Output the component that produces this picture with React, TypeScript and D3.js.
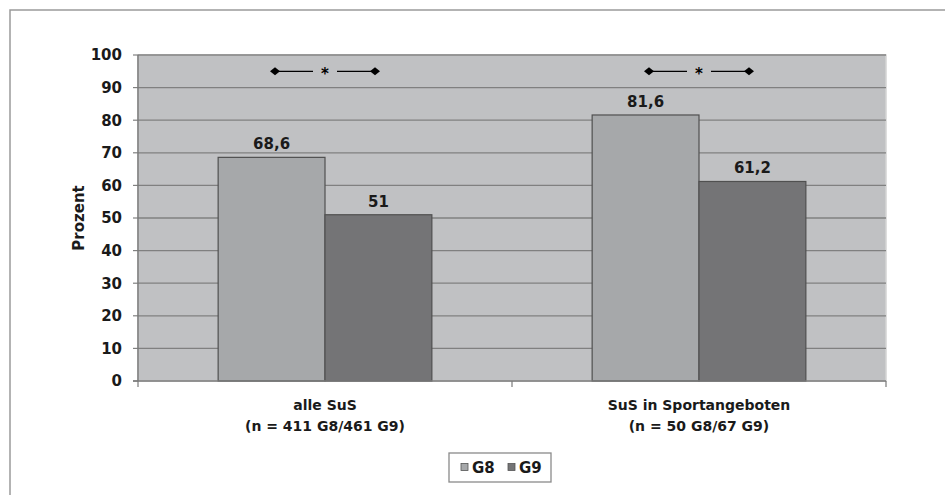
import * as d3 from "d3"

const categories = ["alle SuS", "SuS in Sportangeboten"]
const categorySubtitles = ["(n = 411 G8/461 G9)", "(n = 50 G8/67 G9)"]
const series = ["G8", "G9"]
const g8Values = [68.6, 81.6]
const g9Values = [51, 61.2]
const valueLabels = [["68,6", "51"], ["81,6", "61,2"]]
const yTicks = [0, 10, 20, 30, 40, 50, 60, 70, 80, 90, 100]
const significanceLevel = 95

const colors: Record<string, string> = {G8: "#a6a8aa", G9: "#747476"}
const font = "'DejaVu Sans', Arial, sans-serif"

export default function App() {
  const width = 945
  const height = 495
  const plot = {left: 138, right: 886, top: 55, bottom: 381}

  const x0 = d3.scaleBand<string>().domain(categories).range([plot.left, plot.right])
  const x1 = d3
    .scaleBand<string>()
    .domain(series)
    .range([0, x0.bandwidth()])
    .paddingInner(0)
    .paddingOuter(0.75)
  const y = d3.scaleLinear().domain([0, 100]).range([plot.bottom, plot.top])

  const values: Record<string, number[]> = {G8: g8Values, G9: g9Values}

  return (
    <svg
      width={width}
      height={height}
      style={{position: "absolute", left: 0, top: 0, background: "#fff"}}
      fontFamily={font}
    >
      {/* outer frame, cropped on right and bottom */}
      <path d={`M10,${height} V10 H${width}`} fill="none" stroke="#9a9a9a" strokeWidth={1.5} />

      {/* plot area */}
      <rect
        x={plot.left}
        y={plot.top}
        width={plot.right - plot.left}
        height={plot.bottom - plot.top}
        fill="#c0c1c3"
        stroke="#d4d4d4"
        strokeWidth={1.5}
      />

      {/* gridlines + y ticks */}
      {yTicks.map((t) => (
        <g key={t}>
          {t > 0 && (
            <line x1={plot.left} x2={plot.right} y1={y(t)} y2={y(t)} stroke="#808080" strokeWidth={1.3} />
          )}
          <line x1={plot.left - 5} x2={plot.left} y1={y(t)} y2={y(t)} stroke="#808080" strokeWidth={1.2} />
          <text
            x={plot.left - 16}
            y={y(t)}
            dy="0.36em"
            textAnchor="end"
            fontSize={15}
            fontWeight="bold"
            fill="#1a1a1a"
          >
            {t}
          </text>
        </g>
      ))}

      {/* y axis line */}
      <line x1={plot.left} x2={plot.left} y1={plot.top} y2={plot.bottom} stroke="#7a7a7a" strokeWidth={1.5} />

      {/* bars */}
      {categories.map((c, ci) => (
        <g key={c} transform={`translate(${x0(c)},0)`}>
          {series.map((s) => {
            const v = values[s][ci]
            return (
              <rect
                key={s}
                x={x1(s)}
                y={y(v)}
                width={x1.bandwidth()}
                height={y(0) - y(v)}
                fill={colors[s]}
                stroke="#505050"
                strokeWidth={1.2}
              />
            )
          })}
          {series.map((s, si) => (
            <text
              key={s + "l"}
              x={(x1(s) as number) + x1.bandwidth() / 2}
              y={y(values[s][ci]) - 8}
              textAnchor="middle"
              fontSize={15}
              fontWeight="bold"
              fill="#1a1a1a"
            >
              {valueLabels[ci][si]}
            </text>
          ))}
          {/* significance marker */}
          {(() => {
            const cx = x0.bandwidth() / 2
            const sy = y(significanceLevel)
            const diamond = (px: number) => `M${px - 5},${sy} L${px},${sy - 4} L${px + 5},${sy} L${px},${sy + 4} Z`
            return (
              <g>
                <line x1={cx - 50} x2={cx - 12} y1={sy} y2={sy} stroke="#000" strokeWidth={1.3} />
                <line x1={cx + 12} x2={cx + 50} y1={sy} y2={sy} stroke="#000" strokeWidth={1.3} />
                <path d={diamond(cx - 50)} fill="#000" />
                <path d={diamond(cx + 50)} fill="#000" />
                <text x={cx} y={sy + 8} textAnchor="middle" fontSize={15} fontWeight="bold" fill="#000">
                  *
                </text>
              </g>
            )
          })()}
        </g>
      ))}

      {/* x axis */}
      <line x1={plot.left - 5} x2={plot.right} y1={plot.bottom} y2={plot.bottom} stroke="#7a7a7a" strokeWidth={1.5} />
      {[...categories.map((c) => x0(c) as number), plot.right].map((px, i) => (
        <line key={i} x1={px} x2={px} y1={plot.bottom} y2={plot.bottom + 6} stroke="#7a7a7a" strokeWidth={1.2} />
      ))}
      {categories.map((c, ci) => (
        <text
          key={c}
          x={(x0(c) as number) + x0.bandwidth() / 2}
          textAnchor="middle"
          fontSize={14}
          fontWeight="bold"
          fill="#1a1a1a"
        >
          <tspan x={(x0(c) as number) + x0.bandwidth() / 2} y={410}>
            {c}
          </tspan>
          <tspan x={(x0(c) as number) + x0.bandwidth() / 2} y={431}>
            {categorySubtitles[ci]}
          </tspan>
        </text>
      ))}

      {/* y axis title */}
      <text
        transform={`translate(84,${(plot.top + plot.bottom) / 2}) rotate(-90)`}
        textAnchor="middle"
        fontSize={15}
        fontWeight="bold"
        fill="#1a1a1a"
      >
        Prozent
      </text>

      {/* legend */}
      <g transform="translate(449,453)">
        <rect x={0} y={0} width={102} height={29} fill="#fff" stroke="#8a8a8a" strokeWidth={1.3} />
        {series.map((s, i) => (
          <g key={s} transform={`translate(${12 + i * 47},0)`}>
            <rect x={0} y={10.5} width={7} height={7} fill={colors[s]} stroke="#555" strokeWidth={0.8} />
            <text x={11} y={14.5} dy="0.36em" fontSize={15} fontWeight="bold" fill="#1a1a1a">
              {s}
            </text>
          </g>
        ))}
      </g>
    </svg>
  )
}
